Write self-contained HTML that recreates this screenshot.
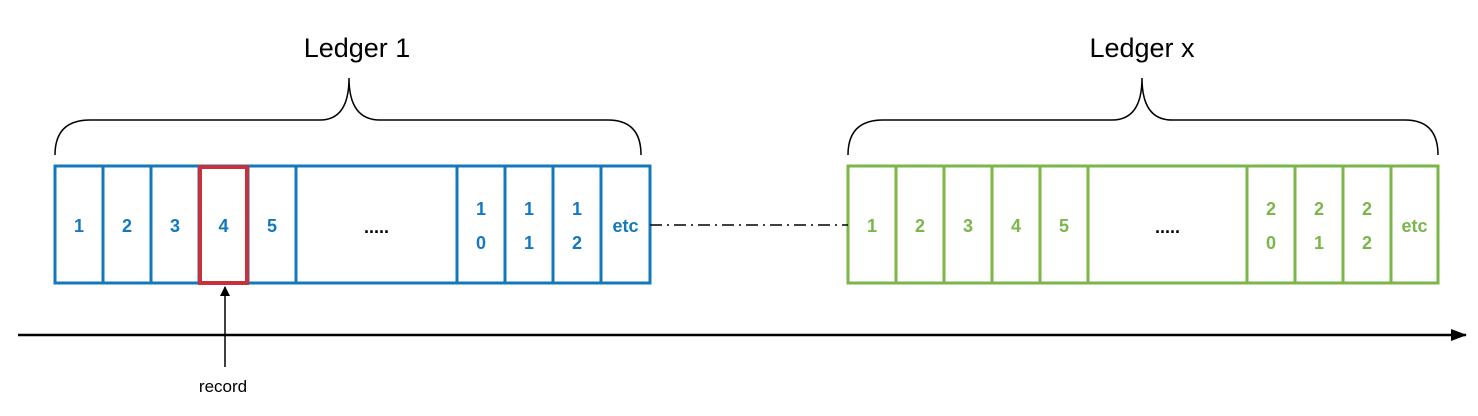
<!DOCTYPE html>
<html><head><meta charset="utf-8"><style>
body{margin:0;background:#fff}
svg{display:block;font-family:"Liberation Sans",sans-serif}
</style></head><body>
<svg width="1478" height="416" viewBox="0 0 1478 416">
<defs><marker id="ah" markerWidth="10" markerHeight="10" refX="9" refY="5" orient="auto" markerUnits="userSpaceOnUse"><path d="M0,0 L10,5 L0,10 z" fill="#000"/></marker>
<marker id="ah2" markerWidth="16" markerHeight="12" refX="15" refY="6" orient="auto" markerUnits="userSpaceOnUse"><path d="M0,0 L16,6 L0,12 z" fill="#000"/></marker></defs>
<text x="357" y="57" font-size="27" text-anchor="middle">Ledger 1</text>
<text x="1142" y="57" font-size="27" text-anchor="middle">Ledger x</text>
<path d="M55,155 Q55,120 90,120 L320,120 Q349,120 349,78 Q349,120 380,120 L608,120 Q641,120 641,155" fill="none" stroke="#000" stroke-width="1.5"/>
<path d="M848,155 Q848,120 883,120 L1112,120 Q1142,120 1142,78 Q1142,120 1172,120 L1405,120 Q1438,120 1438,155" fill="none" stroke="#000" stroke-width="1.5"/>
<g id="l1"></g>
<g id="lx"></g>
<rect x="200" y="167" width="47" height="116" fill="none" stroke="#c8303b" stroke-width="4"/>
<line x1="650" y1="225" x2="848" y2="225" stroke="#000" stroke-width="1.5" stroke-dasharray="12,5,2,5"/>
<line x1="18" y1="335" x2="1466" y2="335" stroke="#000" stroke-width="2.5" marker-end="url(#ah2)"/>
<line x1="225" y1="367" x2="225" y2="287" stroke="#000" stroke-width="1.5" marker-end="url(#ah)"/>
<text x="223" y="392" font-size="17" text-anchor="middle">record</text>
</svg>
<script>
const l1Edges=[55,103,151,199,248,296,457,505,553,601,650];
const l1Labels=[["1"],["2"],["3"],["4"],["5"],["....."],["1","0"],["1","1"],["1","2"],["etc"]];
const lxEdges=[848,896,944,992,1040,1088,1247,1295,1343,1391,1438];
const lxLabels=[["1"],["2"],["3"],["4"],["5"],["....."],["2","0"],["2","1"],["2","2"],["etc"]];
const NS="http://www.w3.org/2000/svg";
function build(g,edges,labels,color){
  const r=document.createElementNS(NS,"rect");
  r.setAttribute("x",edges[0]);r.setAttribute("y",166);r.setAttribute("width",edges[edges.length-1]-edges[0]);r.setAttribute("height",117);
  r.setAttribute("fill","none");r.setAttribute("stroke",color);r.setAttribute("stroke-width",3);
  
  
  g.appendChild(r);
  for(let i=0;i<labels.length;i++){
    if(i>0){const l=document.createElementNS(NS,"line");
      l.setAttribute("x1",edges[i]);l.setAttribute("x2",edges[i]);l.setAttribute("y1",166);l.setAttribute("y2",283);
      l.setAttribute("stroke",color);l.setAttribute("stroke-width",3);
      
      
      g.appendChild(l);}
    const cx=(edges[i]+edges[i+1])/2;const lab=labels[i];
    lab.forEach((s,j)=>{
      const t=document.createElementNS(NS,"text");
      const y=lab.length===1?232:215+j*34;
      t.setAttribute("x",cx);t.setAttribute("y",s==="....."?233:y);t.setAttribute("text-anchor","middle");
      t.setAttribute("font-size",18);t.setAttribute("font-weight","bold");
      t.setAttribute("fill",s==="....."?"#000":color);t.textContent=s;
      
      
      g.appendChild(t);
    });
  }
}
build(document.getElementById("l1"),l1Edges,l1Labels,"#1479bc");
build(document.getElementById("lx"),lxEdges,lxLabels,"#7ab648");
</script>
</body></html>
